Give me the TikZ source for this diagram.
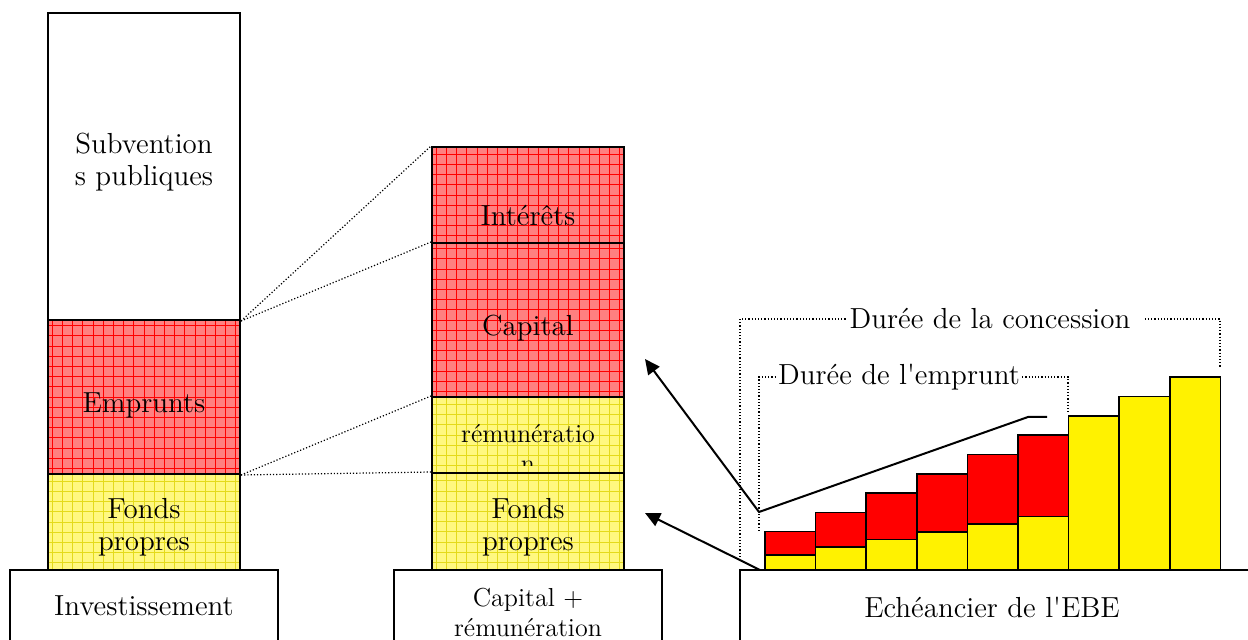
\documentclass[tikz,border=0pt]{standalone}
\usetikzlibrary{arrows.meta}
\tikzset{
  blk/.style={draw, line width=1pt, minimum width=96pt, inner sep=0pt},
  redgrid/.style={fill=red!50, path picture={
      \draw[red, line width=0.35pt] (path picture bounding box.south west) grid[step=5.1pt] (path picture bounding box.north east);}},
  yelgrid/.style={fill=yellow!50, path picture={
      \draw[yellow!88!black, line width=0.35pt] (path picture bounding box.south west) grid[step=5.1pt] (path picture bounding box.north east);}},
  basebox/.style={draw, line width=0.8pt, minimum height=40pt, inner sep=0pt},
  lbl/.style={align=center, inner sep=1pt, font=\fontsize{14.5}{16}\selectfont},
  lblsmall/.style={align=center, inner sep=1pt, font=\fontsize{13}{15}\selectfont},
  zoomline/.style={densely dotted, line width=0.6pt},
  barline/.style={draw, line width=0.8pt}
}
\begin{document}
\begin{tikzpicture}[x=0.5pt,y=-0.5pt]
\useasboundingbox (0,0) rectangle (1248,640);
% base boxes
\node[basebox, minimum width=134pt] (inv) at (144,610) {};
\node[basebox, minimum width=134pt] (capr) at (528,610) {};
\node[basebox, minimum width=260pt] (ebe) at (1000,610) {};
\node[lbl] (inv-t) at (144,606) {Investissement};
\node[lblsmall] (capr-t) at (528,612) {Capital +\\rémunération};
\node[lbl] (ebe-t) at (992,607) {Echéancier de l\textquotesingle EBE};

% investment column
\node[blk, fill=white, minimum height=153.5pt] (sub) at (144,166.5) {};
\node[blk, redgrid, minimum height=77pt] (emp) at (144,397) {};
\node[blk, yelgrid, minimum height=48pt] (fp1) at (144,522) {};
\node[lbl] (sub-t) at (144,162) {Subvention\\s publiques};
\node[lbl] (emp-t) at (144,405) {Emprunts};
\node[lbl] (fp1-t) at (144,527) {Fonds\\propres};

% repayment column
\node[blk, redgrid, minimum height=48pt] (int) at (528,195) {};
\node[blk, redgrid, minimum height=77pt] (capi) at (528,320) {};
\node[blk, yelgrid, minimum height=38pt] (rem) at (528,435) {};
\node[blk, yelgrid, minimum height=48.5pt] (fp2) at (528,521.5) {};
\node[lbl] (int-t) at (528,216) {Intérêts};
\node[lbl] (capi-t) at (528,328) {Capital};
\begin{scope}
  \clip (rem.north west) rectangle ([yshift=4pt]rem.south east);
  \node[lblsmall] (rem-t) at (528,448) {rémunératio\\n};
\end{scope}
\node[lbl] (fp2-t) at (528,527) {Fonds\\propres};

\draw[zoomline] (sub.south east) -- (int.north west);
\draw[zoomline] (sub.south east) -- (capi.north west);
\draw[zoomline] (emp.south east) -- (rem.north west);
\draw[zoomline] (emp.south east) -- (fp2.north west);

% EBE bars
\foreach \i/\c in {0/red,1/red,2/red,3/red,4/red,5/red,6/yellow,7/yellow,8/yellow}{
  \draw[barline, fill=\c] (765+50.6*\i,570) rectangle (815.6+50.6*\i,531.7-19.3*\i);
}
\foreach \i in {0,...,5}{
  \draw[barline, fill=yellow] (765+50.6*\i,570) rectangle (815.6+50.6*\i,555-7.7*\i);
}

% durations
\node[lbl] (conc) at (990,319) {Durée de la concession};
\node[lbl] (empr) at (899,377) {Durée de l\textquotesingle emprunt};
\coordinate (c1) at (740,557);
\coordinate (c2) at (1220,368);
\coordinate (e1) at (759,531);
\coordinate (e2) at (1068,413);
\draw[zoomline] (c1) |- (conc.west);
\draw[zoomline] ([xshift=6pt]conc.east) -| (c2);
\draw[zoomline] (e1) |- (empr.west);
\draw[zoomline] (empr.east) -| (e2);

% arrows
\coordinate (kink) at (759,512);
\coordinate (tip1) at (645,359);
\coordinate (foot) at (760,570);
\coordinate (tip2) at (645,513);
\draw[line width=1pt, {Triangle[length=7.5pt,width=7pt]}-] (tip1) -- (kink) -- (1028,417) -- (1047,417);
\draw[line width=1pt, -{Triangle[length=7.5pt,width=7pt]}] (foot) -- (tip2);
\end{tikzpicture}
\end{document}
